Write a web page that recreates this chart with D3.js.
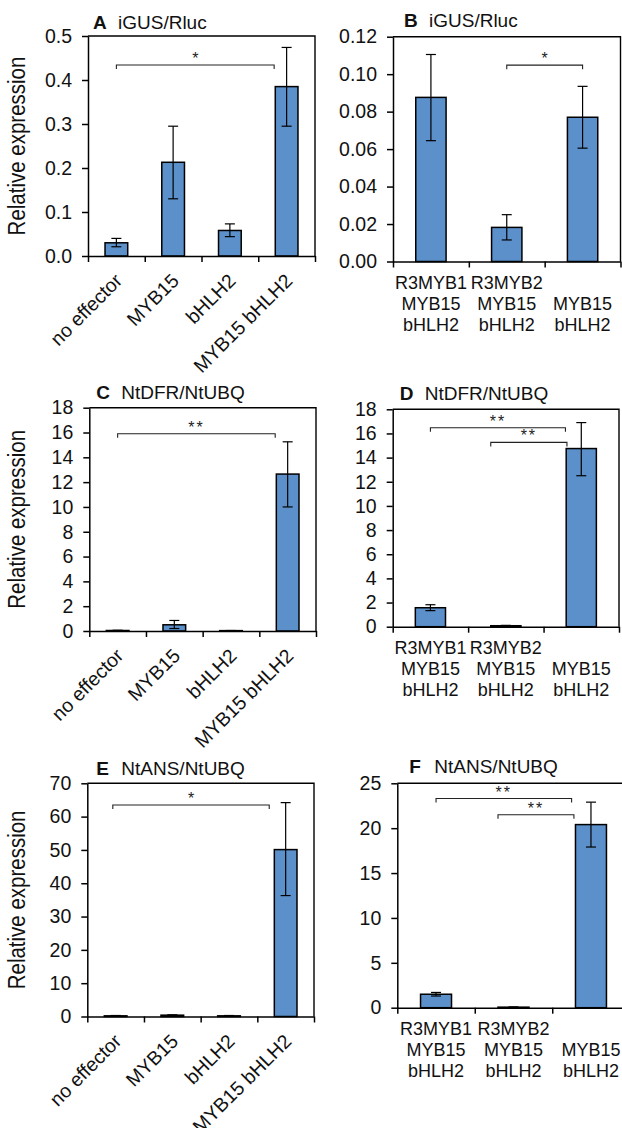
<!DOCTYPE html>
<html>
<head>
<meta charset="utf-8">
<script src="https://cdn.jsdelivr.net/npm/d3@7"></script>
<style>
  body { margin: 0; background: #fff; }
  svg { display: block; font-family: Arial, "Liberation Sans", sans-serif; }
</style>
</head>
<body>
<div id="chart"></div>
<script>
// categories
const leftCats = ['no effector', 'MYB15', 'bHLH2', 'MYB15 bHLH2'];
const rightCats = [['R3MYB1', 'MYB15', 'bHLH2'], ['R3MYB2', 'MYB15', 'bHLH2'], ['', 'MYB15', 'bHLH2']];

// A iGUS/Rluc
const aMean = [0.030, 0.213, 0.058, 0.385];
const aLow = [0.021, 0.130, 0.044, 0.295];
const aHigh = [0.040, 0.295, 0.073, 0.474];
const aTicks = [0, 0.1, 0.2, 0.3, 0.4, 0.5];

// B iGUS/Rluc
const bMean = [0.0876, 0.0182, 0.0770];
const bLow = [0.0645, 0.0115, 0.0605];
const bHigh = [0.1105, 0.0250, 0.0935];
const bTicks = [0, 0.02, 0.04, 0.06, 0.08, 0.10, 0.12];

// C NtDFR/NtUBQ
const cMean = [0.04, 0.5, 0.03, 12.65];
const cLow = [0.02, 0.2, 0.02, 10.0];
const cHigh = [0.06, 0.85, 0.04, 15.25];
const cTicks = [0, 2, 4, 6, 8, 10, 12, 14, 16, 18];

// D NtDFR/NtUBQ
const dMean = [1.57, 0.08, 14.75];
const dLow = [1.33, 0.05, 12.5];
const dHigh = [1.82, 0.11, 16.9];
const dTicks = [0, 2, 4, 6, 8, 10, 12, 14, 16, 18];

// E NtANS/NtUBQ
const eMean = [0.2, 0.4, 0.2, 50.1];
const eLow = [0.1, 0.3, 0.1, 36.3];
const eHigh = [0.3, 0.5, 0.3, 64.2];
const eTicks = [0, 10, 20, 30, 40, 50, 60, 70];

// F NtANS/NtUBQ
const fMean = [1.5, 0.06, 20.4];
const fLow = [1.3, 0.04, 17.9];
const fHigh = [1.7, 0.08, 22.9];
const fTicks = [0, 5, 10, 15, 20, 25];

// significance brackets: from / to in category units (integer = bar centre), y in data units
const aBrackets = [{ from: 0, to: 2.78, y: 0.434, label: '*' }];
const bBrackets = [{ from: 1, to: 2, y: 0.1048, label: '*' }];
const cBrackets = [{ from: 0, to: 2.78, y: 15.9, label: '**' }];
const dBrackets = [
  { from: 0, to: 1.79, y: 16.47, label: '**' },
  { from: 0.8, to: 1.81, y: 15.26, label: '**' },
];
const eBrackets = [{ from: -0.05, to: 2.71, y: 63.5, label: '*' }];
const fBrackets = [
  { from: 0, to: 1.75, y: 23.3, label: '**' },
  { from: 0.8, to: 1.78, y: 21.5, label: '**' },
];

const barColor = '#5b90cb';
const width = 622;
const height = 1128;

const svg = d3
  .select('#chart')
  .append('svg')
  .attr('width', width)
  .attr('height', height)
  .attr('viewBox', `0 0 ${width} ${height}`);

svg.append('rect').attr('width', width).attr('height', height).attr('fill', '#fff');

function drawPanel(p) {
  const g = svg.append('g');
  const n = p.cats.length;
  const area = p.area;

  const y = d3.scaleLinear().domain([0, p.ticks[p.ticks.length - 1]]).range([area.bottom, area.top]);
  const x = d3.scaleBand().domain(d3.range(n)).range([area.left, area.right]);
  const xc = d3.scaleLinear().domain([-0.5, n - 0.5]).range([area.left, area.right]);
  const bw = x.bandwidth();

  // frame (top + right)
  g.append('path')
    .attr('d', `M${area.left},${area.top}H${area.right}V${area.bottom}`)
    .attr('fill', 'none')
    .attr('stroke', '#000')
    .attr('stroke-width', 1.4);

  // bars
  g.selectAll('rect.bar')
    .data(p.mean)
    .join('rect')
    .attr('class', 'bar')
    .attr('x', (d, i) => x(i) + bw * 0.3)
    .attr('width', bw * 0.4)
    .attr('y', (d) => y(d))
    .attr('height', (d) => y(0) - y(d))
    .attr('fill', barColor)
    .attr('stroke', '#000')
    .attr('stroke-width', 1.5);

  // error bars
  const err = g.append('g').attr('stroke', '#000').attr('stroke-width', 1.2);
  p.mean.forEach((m, i) => {
    const cx = xc(i);
    err.append('line').attr('x1', cx).attr('x2', cx).attr('y1', y(p.low[i])).attr('y2', y(p.high[i]));
    [p.low[i], p.high[i]].forEach((v) => {
      err.append('line').attr('x1', cx - 5).attr('x2', cx + 5).attr('y1', y(v)).attr('y2', y(v));
    });
  });

  // y axis
  const yAxis = d3.axisLeft(y)
    .tickValues(p.ticks)
    .tickFormat(p.fmt)
    .tickSize(6)
    .tickSizeOuter(0)
    .tickPadding(10);
  const ya = g.append('g').attr('transform', `translate(${area.left},0)`).call(yAxis);
  ya.selectAll('text').attr('font-size', 19.5).attr('fill', '#111').attr('font-family', null);
  ya.selectAll('path, line').attr('stroke', '#000').attr('stroke-width', 1.5);

  // x axis, ticks on category boundaries
  const xAxis = d3.axisBottom(xc)
    .tickValues(d3.range(n + 1).map((i) => i - 0.5))
    .tickFormat('')
    .tickSize(6)
    .tickSizeOuter(0);
  const xa = g.append('g').attr('transform', `translate(0,${area.bottom})`).call(xAxis);
  xa.selectAll('path, line').attr('stroke', '#000').attr('stroke-width', 1.5);

  // x labels
  if (p.rotate) {
    g.selectAll('text.xl')
      .data(p.cats)
      .join('text')
      .attr('class', 'xl')
      .attr('text-anchor', 'end')
      .attr('font-size', 19.5)
      .attr('fill', '#111')
      .attr('transform', (d, i) => `translate(${xc(i) + 7},${area.bottom + 26}) rotate(-45)`)
      .text((d) => d);
  } else {
    p.cats.forEach((lines, i) => {
      const t = g.append('text')
        .attr('text-anchor', 'middle')
        .attr('font-size', 18)
        .attr('fill', '#111');
      lines.forEach((s, k) => {
        t.append('tspan')
          .attr('x', xc(i))
          .attr('y', area.bottom + 27 + k * 21)
          .text(s);
      });
    });
  }

  // significance brackets
  p.brackets.forEach((b) => {
    const x1 = xc(b.from);
    const x2 = xc(b.to);
    const yy = y(b.y);
    g.append('path')
      .attr('d', `M${x1},${yy + 4}V${yy}H${x2}V${yy + 4}`)
      .attr('fill', 'none')
      .attr('stroke', '#222')
      .attr('stroke-width', 1.1);
    g.append('text')
      .attr('x', (x1 + x2) / 2)
      .attr('y', yy - 1)
      .attr('text-anchor', 'middle')
      .attr('font-size', 16)
      .attr('letter-spacing', b.label.length > 1 ? 2 : 0)
      .attr('fill', '#222')
      .text(b.label);
  });

  // title
  const tg = g.append('text')
    .attr('y', area.top - p.titleDy)
    .attr('font-size', 19)
    .attr('fill', '#111');
  tg.append('tspan').attr('x', area.left + p.letterDx).attr('font-weight', 'bold').text(p.letter);
  tg.append('tspan').attr('x', area.left + p.letterDx + 25).text(p.title);

  // y axis title
  if (p.yLabel) {
    g.append('text')
      .attr('transform', `translate(25,${(area.top + area.bottom) / 2}) scale(1.15,1) rotate(-90)`)
      .attr('text-anchor', 'middle')
      .attr('font-size', 20.5)
      .attr('fill', '#111')
      .text('Relative expression');
  }
}

const fmt1 = d3.format('.1f');
const fmt2 = d3.format('.2f');
const fmt0 = d3.format('d');

drawPanel({
  letter: 'A', title: 'iGUS/Rluc', cats: leftCats, rotate: true, yLabel: true,
  mean: aMean, low: aLow, high: aHigh, ticks: aTicks, fmt: fmt1, brackets: aBrackets,
  area: { left: 88, right: 315, top: 36, bottom: 256 }, letterDx: 5, titleDy: 7,
});
drawPanel({
  letter: 'B', title: 'iGUS/Rluc', cats: rightCats, rotate: false, yLabel: false,
  mean: bMean, low: bLow, high: bHigh, ticks: bTicks, fmt: fmt2, brackets: bBrackets,
  area: { left: 393, right: 620.5, top: 36.7, bottom: 261.5 }, letterDx: 11, titleDy: 10,
});
drawPanel({
  letter: 'C', title: 'NtDFR/NtUBQ', cats: leftCats, rotate: true, yLabel: true,
  mean: cMean, low: cLow, high: cHigh, ticks: cTicks, fmt: fmt0, brackets: cBrackets,
  area: { left: 89.3, right: 316, top: 407.7, bottom: 631 }, letterDx: 7, titleDy: 9,
});
drawPanel({
  letter: 'D', title: 'NtDFR/NtUBQ', cats: rightCats, rotate: false, yLabel: false,
  mean: dMean, low: dLow, high: dHigh, ticks: dTicks, fmt: fmt0, brackets: dBrackets,
  area: { left: 392.7, right: 619, top: 409.3, bottom: 626.7 }, letterDx: 7, titleDy: 9,
});
drawPanel({
  letter: 'E', title: 'NtANS/NtUBQ', cats: leftCats, rotate: true, yLabel: true,
  mean: eMean, low: eLow, high: eHigh, ticks: eTicks, fmt: fmt0, brackets: eBrackets,
  area: { left: 87.3, right: 314, top: 783.3, bottom: 1016.5 }, letterDx: 9, titleDy: 8,
});
drawPanel({
  letter: 'F', title: 'NtANS/NtUBQ', cats: rightCats, rotate: false, yLabel: false,
  mean: fMean, low: fLow, high: fHigh, ticks: fTicks, fmt: fmt0, brackets: fBrackets,
  area: { left: 397.3, right: 629.7, top: 783.3, bottom: 1007.7 }, letterDx: 12, titleDy: 10,
});
</script>
</body>
</html>
